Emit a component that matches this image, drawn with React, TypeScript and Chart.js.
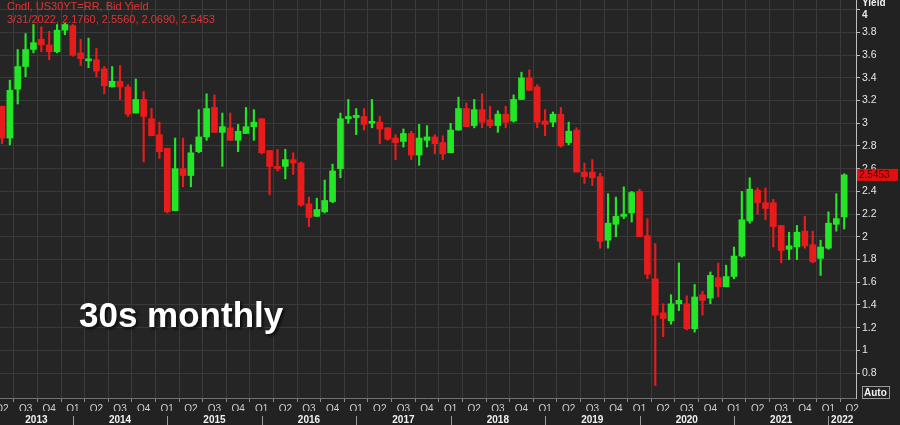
import React, { useEffect, useRef } from "react";
import { Chart, registerables } from "chart.js";

Chart.register(...registerables);

// Monthly US 30Y yield candles, Apr 2013 .. Mar 2022
const START_YEAR = 2013;
const START_MONTH = 4; // April
const LAST_DATE = "3/31/2022";
const RIC = "Cndl, US30YT=RR, Bid Yield";
const ANNOTATION = "30s monthly";

const OPEN = [
  3.15, 2.87, 3.30, 3.50, 3.65, 3.74, 3.69, 3.63, 3.82,
  3.86, 3.62, 3.55, 3.56, 3.48, 3.32, 3.37, 3.32, 3.09, 3.21, 3.04, 2.90,
  2.78, 2.23, 2.60, 2.54, 2.75, 2.88, 3.14, 2.92, 2.96, 2.85, 2.91, 2.97,
  3.04, 2.76, 2.62, 2.62, 2.68, 2.65, 2.29, 2.18, 2.22, 2.31, 2.60, 3.04,
  3.05, 3.06, 3.00, 3.01, 2.96, 2.87, 2.84, 2.91, 2.72, 2.85, 2.88, 2.83,
  2.74, 2.94, 3.13, 2.98, 3.12, 3.03, 2.98, 3.08, 3.02, 3.21, 3.40, 3.32,
  3.02, 3.01, 3.08, 2.83, 2.94, 2.57, 2.57, 2.53, 1.97, 2.11, 2.18, 2.21,
  2.40, 2.01, 1.63, 1.33, 1.26, 1.41, 1.41, 1.19, 1.49, 1.46, 1.64, 1.56,
  1.65, 1.83, 2.14, 2.41, 2.30, 2.30, 2.10, 1.89, 1.91, 2.05, 1.93, 1.81,
  1.90, 2.11, 2.176,
];
const HIGH = [
  3.15, 3.38, 3.65, 3.79, 3.87, 3.85, 3.81, 3.87, 3.88,
  3.87, 3.74, 3.75, 3.66, 3.50, 3.50, 3.51, 3.34, 3.39, 3.28, 3.13, 3.01,
  2.78, 2.87, 2.87, 2.81, 3.12, 3.26, 3.25, 3.09, 3.09, 2.99, 3.14, 3.12,
  3.04, 2.76, 2.77, 2.77, 2.74, 2.66, 2.35, 2.34, 2.50, 2.64, 3.09, 3.21,
  3.13, 3.13, 3.21, 3.06, 2.96, 2.90, 2.95, 2.93, 2.99, 2.98, 2.90, 2.89,
  3.00, 3.23, 3.18, 3.21, 3.26, 3.15, 3.11, 3.15, 3.25, 3.45, 3.47, 3.34,
  3.12, 3.10, 3.14, 3.01, 2.96, 2.65, 2.68, 2.56, 2.38, 2.35, 2.44, 2.40,
  2.42, 2.16, 1.94, 1.41, 1.49, 1.77, 1.48, 1.58, 1.52, 1.69, 1.77, 1.75,
  1.91, 2.40, 2.52, 2.43, 2.43, 2.33, 2.10, 2.04, 2.10, 2.18, 2.05, 1.97,
  2.22, 2.38, 2.556,
];
const LOW = [
  2.82, 2.81, 3.17, 3.41, 3.62, 3.63, 3.56, 3.62, 3.78,
  3.59, 3.51, 3.49, 3.41, 3.26, 3.32, 3.21, 3.06, 3.09, 2.66, 2.89, 2.69,
  2.21, 2.23, 2.44, 2.44, 2.74, 2.85, 2.92, 2.62, 2.85, 2.75, 2.91, 2.85,
  2.73, 2.37, 2.58, 2.51, 2.55, 2.27, 2.09, 2.18, 2.21, 2.30, 2.52, 3.00,
  2.90, 2.94, 2.96, 2.82, 2.85, 2.68, 2.79, 2.68, 2.63, 2.79, 2.73, 2.68,
  2.74, 2.94, 2.97, 2.96, 2.96, 2.96, 2.92, 2.96, 3.01, 3.21, 3.29, 2.96,
  2.89, 2.97, 2.79, 2.81, 2.57, 2.47, 2.45, 1.90, 1.90, 2.00, 2.16, 2.13,
  2.00, 1.63, 0.69, 1.12, 1.23, 1.35, 1.18, 1.16, 1.31, 1.41, 1.47, 1.56,
  1.63, 1.82, 2.12, 2.20, 2.15, 1.91, 1.77, 1.80, 1.80, 1.90, 1.77, 1.66,
  1.89, 2.05, 2.069,
];
const CLOSE = [
  2.87, 3.29, 3.50, 3.65, 3.71, 3.69, 3.63, 3.82, 3.87,
  3.60, 3.57, 3.56, 3.46, 3.33, 3.37, 3.32, 3.08, 3.21, 3.06, 2.89, 2.75,
  2.22, 2.60, 2.54, 2.74, 2.88, 3.13, 2.92, 2.97, 2.85, 2.93, 2.97, 3.01,
  2.74, 2.62, 2.60, 2.68, 2.65, 2.28, 2.17, 2.24, 2.32, 2.58, 3.04, 3.06,
  3.07, 2.99, 3.01, 2.95, 2.86, 2.83, 2.91, 2.72, 2.87, 2.88, 2.82, 2.73,
  2.94, 3.13, 2.97, 3.12, 3.01, 2.98, 3.08, 3.01, 3.21, 3.40, 3.29, 3.01,
  2.99, 3.08, 2.80, 2.93, 2.57, 2.53, 2.52, 1.96, 2.12, 2.18, 2.20, 2.39,
  2.00, 1.67, 1.31, 1.28, 1.41, 1.44, 1.19, 1.47, 1.44, 1.66, 1.56, 1.65,
  1.83, 2.15, 2.42, 2.30, 2.25, 2.09, 1.88, 1.92, 2.04, 1.92, 1.78, 1.91,
  2.12, 2.16, 2.5453,
];

const Y_TICKS = [0.8, 1, 1.2, 1.4, 1.6, 1.8, 2, 2.2, 2.4, 2.6, 2.8, 3, 3.2, 3.4, 3.6, 3.8, 4];
const QUARTERS = ["Q1", "Q2", "Q3", "Q4"];
const YEARS = ["2013", "2014", "2015", "2016", "2017", "2018", "2019", "2020", "2021", "2022"];
const Y_RANGE = [0.58, 4.086];
const X_RANGE = [-0.25, 108.5];

const UP = "#24e626";
const DOWN = "#e81c1c";
const FONT = "'Liberation Sans', Arial, sans-serif";

const fmt = (v: number) => String(Number(v.toFixed(1)));

export default function App() {
  const ref = useRef<HTMLCanvasElement | null>(null);

  useEffect(() => {
    const canvas = ref.current;
    if (!canvas) return;
    const n = CLOSE.length;
    const idx = Array.from({ length: n }, (_, i) => i);
    const colors = idx.map((i) => (CLOSE[i] >= OPEN[i] ? UP : DOWN));

    // month offset 0 = START_MONTH of START_YEAR
    const monthOf = (i: number) => (START_MONTH - 1 + i) % 12;
    const quarterTicks: number[] = [];
    for (let i = 0; i <= X_RANGE[1]; i++) if (monthOf(i) % 3 === 0) quarterTicks.push(i);
    const yearStarts = YEARS.map((_, k) => k * 12 - (START_MONTH - 1));
    const yearCenters = yearStarts.map((f) => {
      const a = Math.max(f, X_RANGE[0]);
      const b = Math.min(f + 12, X_RANGE[1]);
      return (a + b) / 2;
    });
    const topTick = Y_TICKS[Y_TICKS.length - 1];

    const deco = {
      id: "deco",
      beforeDraw(chart: any) {
        const { ctx, chartArea } = chart;
        ctx.save();
        ctx.fillStyle = "#222222";
        ctx.fillRect(0, 0, chart.width, chart.height);
        ctx.fillStyle = "#252525";
        ctx.fillRect(chartArea.left, chartArea.top, chartArea.right - chartArea.left, chartArea.bottom - chartArea.top);
        ctx.restore();
      },
      afterDraw(chart: any) {
        const { ctx, chartArea } = chart;
        const xs = chart.scales.x;
        const ys = chart.scales.y;
        const x2 = chart.scales.x2;
        ctx.save();
        // year separators
        ctx.strokeStyle = "#9a9a9a";
        ctx.lineWidth = 1;
        yearStarts.forEach((f) => {
          if (f <= X_RANGE[0] || f >= X_RANGE[1]) return;
          const px = Math.round(xs.getPixelForValue(f)) + 0.5;
          ctx.beginPath();
          ctx.moveTo(px, x2.top + 5);
          ctx.lineTo(px, chart.height);
          ctx.stroke();
        });
        // "Yield" header
        ctx.fillStyle = "#f0f0f0";
        ctx.font = `bold 10px ${FONT}`;
        ctx.textBaseline = "alphabetic";
        ctx.textAlign = "left";
        ctx.fillText("Yield", chartArea.right + 6, 6);
        // top tick label nudged below the header
        ctx.font = `bold 10px ${FONT}`;
        ctx.fillStyle = "#e6e6e6";
        ctx.textBaseline = "middle";
        ctx.fillText(fmt(topTick), chartArea.right + 6, ys.getPixelForValue(topTick) + 5);
        // last price tag
        const last = CLOSE[n - 1];
        const py = ys.getPixelForValue(last);
        ctx.fillStyle = "#e40e0e";
        ctx.fillRect(chartArea.right + 1, py - 6, 41, 12);
        ctx.fillStyle = "#3a0000";
        ctx.font = `10px ${FONT}`;
        ctx.fillText(last.toFixed(4), chartArea.right + 3, py + 0.5);
        // Auto box
        ctx.strokeStyle = "#9a9a9a";
        ctx.strokeRect(chartArea.right + 6.5, chartArea.bottom - 11.5, 27, 12);
        ctx.fillStyle = "#f0f0f0";
        ctx.font = `bold 10px ${FONT}`;
        ctx.fillText("Auto", chartArea.right + 8, chartArea.bottom - 5);
        ctx.restore();
      },
    };

    const chart = new Chart(canvas, {
      type: "bar",
      data: {
        datasets: [
          {
            label: "wick",
            data: idx.map((i) => ({ x: i, y: [LOW[i], HIGH[i]] })) as any,
            backgroundColor: colors,
            barThickness: 1.5,
            grouped: false,
            xAxisID: "x",
            yAxisID: "y",
          } as any,
          {
            label: "body",
            data: idx.map((i) => ({ x: i, y: [OPEN[i], CLOSE[i]] })) as any,
            backgroundColor: colors,
            barThickness: 6,
            minBarLength: 2,
            grouped: false,
            xAxisID: "x",
            yAxisID: "y",
          } as any,
        ],
      },
      options: {
        animation: false,
        responsive: true,
        maintainAspectRatio: false,
        layout: { padding: 0 },
        plugins: { legend: { display: false }, tooltip: { enabled: false } },
        scales: {
          x: {
            type: "linear",
            position: "bottom",
            min: X_RANGE[0],
            max: X_RANGE[1],
            offset: false,
            afterBuildTicks: (s: any) => {
              s.ticks = quarterTicks.map((v) => ({ value: v }));
            },
            afterFit: (s: any) => {
              s.height = 13;
              s.paddingLeft = 0;
              s.paddingRight = 0;
            },
            ticks: {
              autoSkip: false,
              maxRotation: 0,
              minRotation: 0,
              padding: 1,
              color: "#cfcfcf",
              font: { family: FONT, size: 10 },
              callback: (v: any) => QUARTERS[Math.floor(monthOf(Number(v)) / 3)],
            },
            grid: { color: "#3a3a3a", tickColor: "#8a8a8a", tickLength: 4 },
            border: { display: true, color: "#707070" },
          },
          x2: {
            type: "linear",
            position: "bottom",
            min: X_RANGE[0],
            max: X_RANGE[1],
            offset: false,
            afterBuildTicks: (s: any) => {
              s.ticks = yearCenters.map((v) => ({ value: v }));
            },
            afterFit: (s: any) => {
              s.height = 14;
              s.paddingLeft = 0;
              s.paddingRight = 0;
            },
            ticks: {
              autoSkip: false,
              maxRotation: 0,
              minRotation: 0,
              padding: 3,
              color: "#f2f2f2",
              font: { family: FONT, size: 10, weight: "bold" },
              callback: (_v: any, i: number) => YEARS[i],
            },
            grid: { display: false, drawTicks: false },
            border: { display: false },
          },
          y: {
            type: "linear",
            position: "right",
            min: Y_RANGE[0],
            max: Y_RANGE[1],
            afterBuildTicks: (s: any) => {
              s.ticks = Y_TICKS.map((v) => ({ value: v }));
            },
            afterFit: (s: any) => {
              s.width = 44;
              s.paddingTop = 0;
              s.paddingBottom = 0;
            },
            ticks: {
              padding: 2,
              color: "#e6e6e6",
              font: { family: FONT, size: 10.5 },
              callback: (v: any) => (Number(v) === topTick ? "" : fmt(Number(v))),
            },
            grid: { color: "#3a3a3a", tickColor: "#bdbdbd", tickLength: 4 },
            border: { display: true, color: "#bdbdbd" },
          },
        },
      } as any,
      plugins: [deco],
    });
    return () => chart.destroy();
  }, []);

  const n = CLOSE.length;
  const legend2 = `${LAST_DATE}, ${OPEN[n - 1].toFixed(4)}, ${HIGH[n - 1].toFixed(4)}, ${LOW[n - 1].toFixed(4)}, ${CLOSE[n - 1].toFixed(4)}`;

  return (
    <div
      style={{
        position: "fixed",
        left: 0,
        top: 0,
        width: 900,
        height: 425,
        background: "#222222",
        overflow: "hidden",
      }}
    >
      <canvas ref={ref} width={900} height={425} />
      <div
        style={{
          position: "absolute",
          left: 7,
          top: 0,
          fontFamily: FONT,
          fontSize: 11,
          lineHeight: "13px",
          color: "#e03434",
          whiteSpace: "pre",
          pointerEvents: "none",
        }}
      >
        <div>{RIC}</div>
        <div>{legend2}</div>
      </div>
      <div
        style={{
          position: "absolute",
          left: 79,
          top: 297,
          fontFamily: FONT,
          fontWeight: "bold",
          fontSize: 35,
          lineHeight: "35px",
          color: "#ffffff",
          whiteSpace: "pre",
          textShadow: "2px 2px 3px rgba(0,0,0,0.7)",
          pointerEvents: "none",
        }}
      >
        {ANNOTATION}
      </div>
    </div>
  );
}
